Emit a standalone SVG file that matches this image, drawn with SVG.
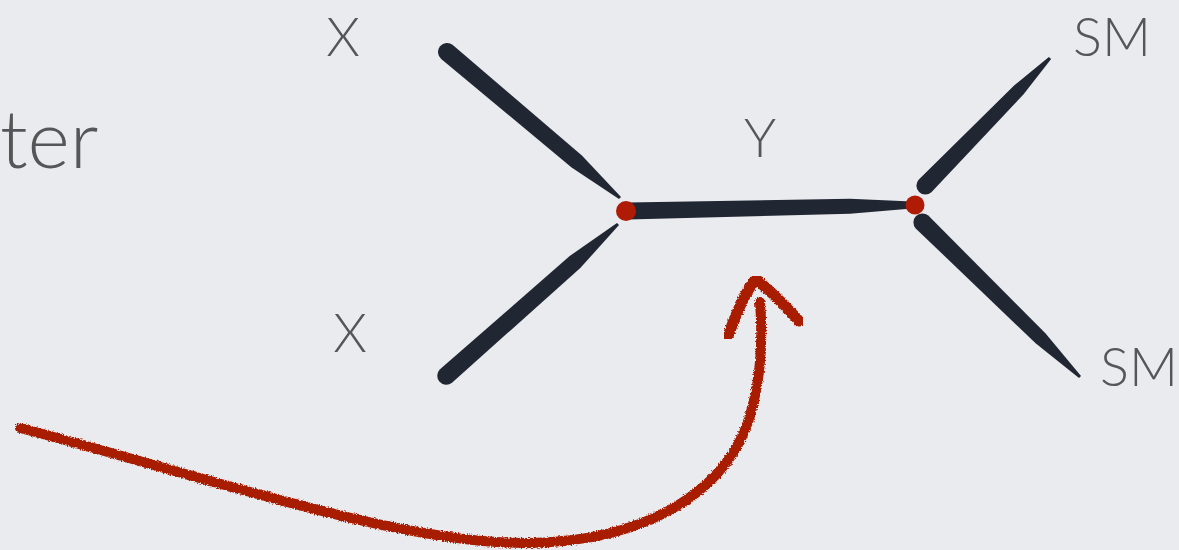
<svg xmlns="http://www.w3.org/2000/svg" width="1179" height="550" viewBox="0 0 1179 550">
  <defs>
    <style>
      .lbl { font-family: Lato, "Open Sans", "Liberation Sans", sans-serif; font-weight: 300; fill: #555657; font-size: 54px; text-anchor: middle; }
      .big { font-family: Lato, "Open Sans", "Liberation Sans", sans-serif; font-weight: 300; fill: #555657; font-size: 81px; }
      .edge { fill: #212633; }
      .vtx { fill: #b01b06; }
      .pen { fill: none; stroke: #a81a03; stroke-linecap: round; stroke-linejoin: round; filter: url(#rough); }
    </style>
    <filter id="rough" x="-5%" y="-5%" width="110%" height="110%">
      <feTurbulence type="fractalNoise" baseFrequency="0.7" numOctaves="2" seed="3" result="n"/>
      <feDisplacementMap in="SourceGraphic" in2="n" scale="4" xChannelSelector="R" yChannelSelector="G"/>
    </filter>
  </defs>
  <rect width="1179" height="550" fill="#eaebee"/>

  <g id="title-fragment"><text class="big" x="0" y="168">ter</text></g>

  <g id="connectors">
    <path id="edge-x1" class="edge" d="M452.8,45.1 L581.9,155.4 L621,196.9 L619,199.1 L571.6,167.6 L441.2,58.9 A9,9 0 0 1 452.8,45.1 Z"/>
    <path id="edge-x2" class="edge" d="M440,369.3 L569.7,256 L617,222.9 L619,225.1 L580.3,268 L452,382.7 A9,9 0 0 1 440,369.3 Z"/>
    <path id="edge-y" class="edge" d="M628,202.5 L850,198.8 L912,201.5 L912,208.5 L850,213.8 L628,219.5 Z"/>
    <path id="edge-sm1" class="edge" d="M918.6,179.7 L1014.1,85.5 L1048.9,57 L1051.1,59 L1023.4,94.5 L931.4,192.3 A9,9 0 0 1 918.6,179.7 Z"/>
    <path id="edge-sm2" class="edge" d="M928.3,215.6 L1045.4,333.25 L1081,375.9 L1079,378.1 L1035.6,343.25 L915.7,228.4 A9,9 0 0 1 928.3,215.6 Z"/>
  </g>

  <g id="vertex-left"><circle class="vtx" cx="626" cy="211" r="10"/></g>
  <g id="vertex-right"><circle class="vtx" cx="915" cy="205" r="9.5"/></g>

  <g id="label-x1"><text class="lbl" x="343" y="56">X</text></g>
  <g id="label-x2"><text class="lbl" x="350" y="352">X</text></g>
  <g id="label-y"><text class="lbl" x="760" y="157">Y</text></g>
  <g id="label-sm1"><text class="lbl" x="1112" y="56">SM</text></g>
  <g id="label-sm2"><text class="lbl" x="1139" y="386">SM</text></g>

  <g id="annotation-arrow">
    <path class="pen" stroke-width="10" d="M20,428 C200,475 400,545 530,543 C650,541 720,490 745,430 C762,385 763,340 760,302"/>
    <path class="pen" stroke-width="11" d="M728,336 C736,314 746,290 756,279 C770,291 788,308 799,321"/>
  </g>
</svg>
